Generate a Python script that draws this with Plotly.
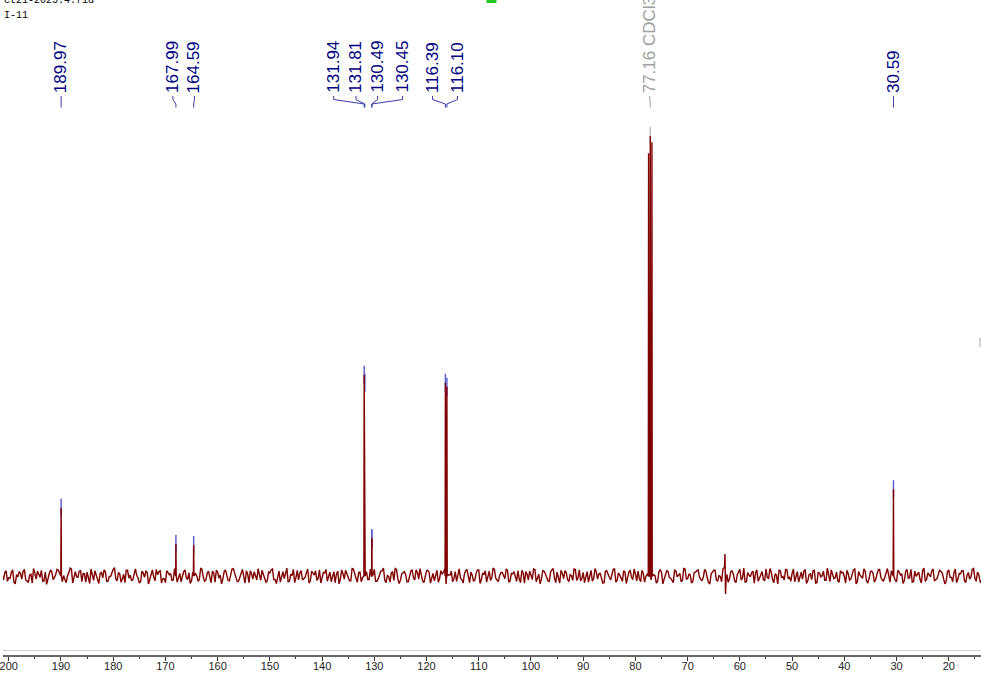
import numpy as np
import plotly.graph_objects as go

# ---------------- data ----------------
# labelled peaks: chemical shift (ppm) and intensity (CDCl3 centre line = 1000)
peak_ppm = [189.97, 167.99, 164.59, 131.94, 131.81, 130.49, 130.45, 116.39, 116.10, 30.59]
peak_int = [155, 73, 70, 457, 440, 86, 83, 439, 430, 197]
peak_labels = ["189.97", "167.99", "164.59", "131.94", "131.81", "130.49", "130.45",
               "116.39", "116.10", "30.59"]

# solvent (CDCl3 triplet)
solvent_ppm = [77.48, 77.16, 76.84]
solvent_int = [961, 1000, 986]
solvent_label = "77.16 CDCl3"

# small dispersive artefact near 63 ppm
artefact_ppm = [62.95, 62.85, 62.75, 62.65]
artefact_int = [20, 50, -41, -10]

# baseline noise, sampled every 0.5 ppm from 201.5 ppm (noise_a)
# and at the in-between points, 0.25 ppm lower (noise_b)
noise_start = 201.5
noise_step = 0.5
noise_a = [
    5, -9, 12, -4, 8, -14, 3, 10, -7, 15, -11, 2, -16, 6, 11, -3, -12, 9, -5, 14,
    -8, 4, 13, -10, 1, -15, 7, 16, -6, -2, 11, -13, 5, 9, -17, 3, 12, -9, 6, -4,
    10, -12, -1, 15, -7, 8, -14, 4, 13, -5, -10, 7, 2, -16, 11, -3, 9, -8, 14, -11,
    3, 12, -6, -15, 8, 5, -9, 16, -2, -13, 10, -4, 7, -11, 13, 1, -8, 15, -12, 6,
    -3, 11, -14, 9, 2, -7, 14, -10, 4, 17, -6, -12, 8, -1, 12, -15, 5, 10, -9, 3,
    13, -5, -11, 7, 16, -8, 1, -14, 10, 6, -13, 4, 15, -3, -9, 12, -6, 8, -16, 11,
    2, -10, 14, -4, 7, -12, 9, 3, -15, 11, -7, 5, 13, -2, -11, 16, -5, 8, -13, 4,
    10, -8, -3, 15, -12, 6, 12, -9, 1, -14, 9, 17, -6, -10, 7, 3, -13, 11, -4, 14,
    -7, 5, -15, 12, 8, -2, -11, 13, -6, 4, 16, -9, 2, -13, 10, 7, -5, -16, 12, -1,
    9, -12, 6, 14, -8, 3, -14, 11, -4, 15, -10, 1, 8, -6, 13, -11, 5, -3, 12, -15,
    7, 10, -9, 2, 16, -13, 4, -7, 11, -2, -12, 14, -5, 9, -16, 6, 12, -8, 3, -10,
    15, -4, -11, 8, 1, -14, 13, -6, 10, 5, -9, -15, 12, -3, 7, 16, -10, 2, -12, 9,
    -5, 13, -8, 4, 11, -13, 6, -1, 15, -9, 3, -16, 10, 8, -7, 12, -4, -11, 14, -2,
    6, -10, 16, -6, 2, -12, 9, 14, -8, -3, 11, -15, 5, 13, -9, 1, -13, 10, 4, -7,
    12, -11, 3, 15, -5, -14, 8, -2, 11, 7, -12, 4, -8, 16, -6, 9, -15, 2, 13, -4,
    -9, 14, -3, 6, -13, 10, 1, -7, 15, -11, 5, 12, -16, 8, -2, 11, -10, 3, 14, -6,
    9, -14, 7, -1, 13, -9, 4, 16, -12, 2, -5, 11, -15, 10, 6, -8, 14, -3, -11, 8,
    1, 12, -7, -13, 9, 5, -10, 15, -4, -14, 11, 3, -8, 13, -12, 7, -2, 16, -9, 4,
    10, -6, -12, 14, -3, 8, -15, 6, 12, -10, 2, -7, 15, -5, 9, -13, 11, -1, -8, 13,
]
noise_b = [
    3, 8, -12, -5, 14, -18, -2, 6, 11, -9, -15, 4, 17, -7, 2, 13, -11, -19, 5, 9,
    -4, 15, 7, -13, -8, 1, 18, -16, 10, -3, 12, 6, -14, -6, 16, -10, 3, -17, 8, 14,
    -12, -1, 9, 19, -11, 5, -7, -15, 13, 2, -9, 16, -4, -13, 7, 11, -18, 4, -2, 15,
    10, -16, -6, 12, 3, -10, 17, -14, 6, -1, 14, -8, -17, 9, 5, -12, 18, -3, -9, 11,
    -15, 7, 13, -5, -18, 10, 2, -11, 16, 8, -13, -4, 15, -16, 4, 12, -7, -2, 17, -10,
    6, -14, 9, 14, -8, -17, 11, 3, -6, 18, -12, 1, -15, 13, 7, -9, -3, 16, -11, 5,
    12, -5, -16, 8, 15, -2, -13, 10, 4, -18, 14, -7, 6, -11, 17, 2, -14, 9, -4, 13,
    -8, 16, 3, -12, -6, 11, 18, -15, -1, 7, -10, 15, -17, 5, 10, -13, -2, 14, -9, 8,
    17, -11, -4, 13, -16, 6, 1, -14, 12, 9, -18, 3, 11, -6, -12, 16, -8, 4, 15, -15,
    2, -9, 14, -17, 7, 12, -3, -10, 18, -5, -13, 8, -1, 16, -14, 6, 10, -12, -7, 13,
    -16, 4, 11, -8, 15, -2, -18, 12, 5, -11, 9, 17, -15, -3, 13, -6, 8, -13, 1, 16,
    -10, 14, -5, -15, 10, 3, -12, 17, -7, 6, -16, 11, 2, -9, 15, -14, 7, -4, 12, -17,
    9, -3, 16, -11, -6, 13, -14, 4, 18, -8, 1, -12, 14, -18, 6, 10, -5, -15, 11, 3,
    -13, 17, -7, 5, -16, 8, 12, -2, -10, 15, -4, -17, 9, 13, -12, -1, 16, -6, -14, 10,
    4, -15, 11, -9, 18, -13, 2, 7, -16, 14, -5, 10, -11, -3, 17, -8, 5, -18, 12, -1,
    15, -6, -12, 16, -2, -14, 9, 11, -17, 3, -8, 13, -15, 7, 1, -10, 18, -13, 6, -4,
    -11, 12, 8, -16, 5, -7, 14, -18, 10, -2, 16, -12, -5, 11, -14, 4, 15, -9, -3, 17,
    -14, 6, -10, 13, 2, -17, 11, -5, 15, -13, -1, 9, -16, 18, -8, 3, 12, -11, -6, 14,
    7, -18, 10, -3, -13, 16, -7, 5, 12, -15, 8, -2, 17, -12, 3, -16, 11, 6, -9, 13,
]

# axis
x_range = [201.1, 13.83]
tick_vals = list(range(200, 10, -10))
header_lines = ["ct21-2025.4.fid", "I-11"]

# ---------------- layout constants ----------------
W, H = 981, 675
M_B = 20
PLOT_H = H - M_B
Y_RANGE = [-179.5, 1309]
LINE_W = 0.06                      # half width of a peak (ppm)

# label centres (ppm) after spreading
label_pos = [189.97, 168.57, 164.44, 137.78, 133.52, 129.37, 124.59, 118.85, 114.07, 30.59]
solvent_label_pos = 77.25

NAVY = "#000080"
CONN = "#3b3ba8"
GRAY = "#a0a0a0"
RED = "#800000"
MARK = "#6060d0"


def py(pix):
    return (PLOT_H - pix) / PLOT_H


# ---------------- build spectrum ----------------
pts = []
all_peaks = list(zip(peak_ppm, peak_int)) + list(zip(solvent_ppm, solvent_int))
centres = [p for p, _ in all_peaks] + artefact_ppm
noise_pts = []
for i, (va, vb) in enumerate(zip(noise_a, noise_b)):
    x = noise_start - noise_step * i
    noise_pts.append((x, va))
    noise_pts.append((x - noise_step / 2, vb))
for x, v in noise_pts:
    if min(abs(x - c) for c in centres) < 0.1:
        continue
    pts.append((x, v))
for p, h in all_peaks:
    pts += [(p + LINE_W, 0), (p, h), (p - LINE_W, 0)]
pts += list(zip(artefact_ppm, artefact_int))
pts.sort(key=lambda t: -t[0])
sx = [p[0] for p in pts]
sy = [p[1] for p in pts]

fig = go.Figure()

# peak top markers (drawn first; the spectrum covers their lower half)
fig.add_trace(go.Scatter(
    x=peak_ppm, y=peak_int, mode="markers",
    marker=dict(symbol="line-ns", size=13, line=dict(color=MARK, width=1.5)),
    hoverinfo="skip", showlegend=False))
fig.add_trace(go.Scatter(
    x=[solvent_ppm[1]], y=[solvent_int[1]], mode="markers",
    marker=dict(symbol="line-ns", size=13, line=dict(color="#c0c0c0", width=1.5)),
    hoverinfo="skip", showlegend=False))

fig.add_trace(go.Scatter(
    x=sx, y=sy, mode="lines", line=dict(color=RED, width=1.4),
    hoverinfo="skip", showlegend=False))

shapes = []
annotations = []


def add_label(text, lx, px, color, conn_color):
    annotations.append(dict(
        x=lx, xref="x", y=py(94), yref="paper", text=text, textangle=-90,
        showarrow=False, xanchor="center", yanchor="bottom", borderpad=0,
        font=dict(family="Liberation Sans, Arial", size=17, color=color)))
    segs = [((lx, 96), (lx, 99.5)), ((lx, 99.5), (px, 104)), ((px, 104), (px, 107.5))]
    for (x0, y0), (x1, y1) in segs:
        shapes.append(dict(type="line", xref="x", yref="paper",
                           x0=x0, x1=x1, y0=py(y0), y1=py(y1),
                           line=dict(color=conn_color, width=1)))


for t, lx, p in zip(peak_labels, label_pos, peak_ppm):
    add_label(t, lx, p, NAVY, CONN)
add_label(solvent_label, solvent_label_pos, solvent_ppm[1], GRAY, GRAY)

# header text
for i, t in enumerate(header_lines):
    annotations.append(dict(
        x=0, xref="paper", xanchor="left", y=py(1 + 14 * i), yref="paper",
        yanchor="middle", text=t, showarrow=False, borderpad=0,
        font=dict(family="Liberation Mono, Courier New", size=10, color="#000")))

# light rule above the axis line
shapes.append(dict(type="line", xref="paper", yref="paper", x0=0, x1=1,
                   y0=py(650.5), y1=py(650.5), line=dict(color="#cfcfcf", width=1)))
# small decorative marks
shapes.append(dict(type="rect", xref="paper", yref="paper", x0=485 / W, x1=495 / W,
                   y0=py(3), y1=1.0, line=dict(width=0), fillcolor="#22c822"))
shapes.append(dict(type="rect", xref="paper", yref="paper", x0=979 / W, x1=1.0,
                   y0=py(347), y1=py(338), line=dict(width=0), fillcolor="#d0d0d0"))

fig.update_layout(
    width=W, height=H,
    margin=dict(l=0, r=0, t=0, b=M_B),
    paper_bgcolor="white", plot_bgcolor="white",
    shapes=shapes, annotations=annotations,
    xaxis=dict(
        range=x_range, showgrid=False, zeroline=False,
        showline=True, linecolor="#666666", linewidth=1.5,
        tickmode="array", tickvals=tick_vals,
        ticks="outside", ticklen=4, tickwidth=1, tickcolor="#333333",
        minor=dict(dtick=5, ticks="outside", ticklen=2, tickcolor="#333333", showgrid=False),
        tickfont=dict(family="Liberation Sans, Arial", size=11, color="#222222"),
        ticklabeloverflow="allow", ticklabelstandoff=-4,
    ),
    yaxis=dict(range=Y_RANGE, visible=False, showgrid=False, zeroline=False),
)

fig.write_html(
    "out.html",
    config={"displayModeBar": False},
    post_script="document.body.style.margin='0';document.body.style.overflow='hidden';",
)
